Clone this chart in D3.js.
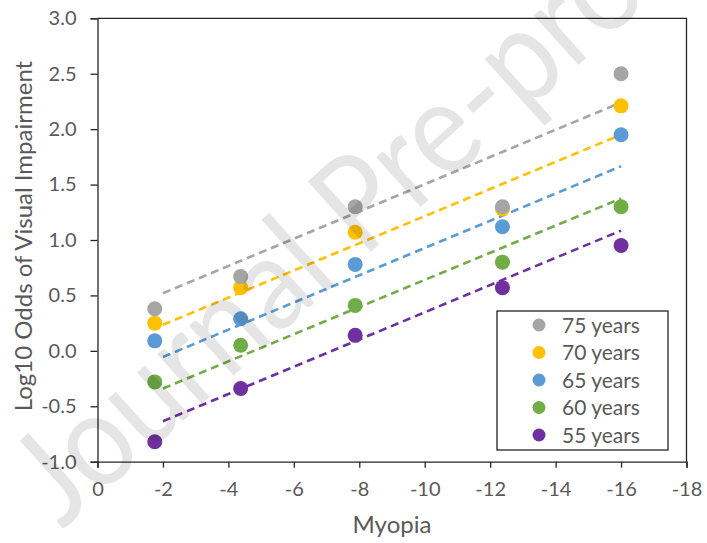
<!DOCTYPE html>
<html>
<head>
<meta charset="utf-8">
<script src="https://cdn.jsdelivr.net/npm/d3@7"></script>
<style>
  body { margin: 0; background: #fff; }
  svg { font-family: Lato, "Open Sans", sans-serif; }
</style>
</head>
<body>
<div id="chart"></div>
<script>
// myopia categories (dioptres) where the points sit
const myopiaX = [-1.75, -4.375, -7.875, -12.375, -16];

const seriesNames = ["75 years", "70 years", "65 years", "60 years", "55 years"];
const seriesColors = ["#A5A5A5", "#FFC000", "#5B9BD5", "#70AD47", "#7030A0"];

// log10 odds per age group
const age75 = [0.38, 0.67, 1.30, 1.30, 2.50];
const age70 = [0.25, 0.57, 1.07, 1.28, 2.21];
const age65 = [0.09, 0.29, 0.78, 1.12, 1.95];
const age60 = [-0.28, 0.05, 0.41, 0.80, 1.30];
const age55 = [-0.82, -0.34, 0.14, 0.57, 0.95];

// fitted lines, from x = -2 to x = -16
const trendX = [-2, -16];
const trendStart = [0.52, 0.235, -0.055, -0.34, -0.635];
const trendEnd = [2.24, 1.95, 1.665, 1.375, 1.085];

const xTicks = [0, -2, -4, -6, -8, -10, -12, -14, -16, -18];
const yTicks = [-1.0, -0.5, 0.0, 0.5, 1.0, 1.5, 2.0, 2.5, 3.0];

const allValues = [age75, age70, age65, age60, age55];

const width = 707, height = 543;
const margin = {left: 97.5, right: 20.5, top: 18.3, bottom: 81.3};

const svg = d3.select("#chart").append("svg")
    .attr("width", width)
    .attr("height", height);

const x = d3.scaleLinear().domain([0, -18]).range([margin.left, width - margin.right]);
const y = d3.scaleLinear().domain([-1, 3]).range([height - margin.bottom, margin.top]);

const textColor = "#595959";
const axisColor = "#262626";

// plot frame (top and right)
svg.append("path")
    .attr("d", `M${x(0)},${y(3)}H${x(-18)}V${y(-1)}`)
    .attr("fill", "none")
    .attr("stroke", axisColor)
    .attr("stroke-width", 1.3);

// x axis
const xAxis = svg.append("g")
    .attr("transform", `translate(0,${y(-1)})`)
    .call(d3.axisBottom(x).tickValues(xTicks).tickFormat(d => String(d)).tickSize(6).tickPadding(14));
xAxis.select(".domain").attr("stroke", axisColor).attr("stroke-width", 1.3);
xAxis.selectAll(".tick line").attr("stroke", axisColor).attr("stroke-width", 1.3);
xAxis.selectAll("text").attr("fill", textColor).style("font-size", "20px").style("font-family", "Lato");

// y axis
const yAxis = svg.append("g")
    .attr("transform", `translate(${x(0)},0)`)
    .call(d3.axisLeft(y).tickValues(yTicks).tickFormat(d => d.toFixed(1)).tickSize(7).tickPadding(14));
yAxis.select(".domain").attr("stroke", axisColor).attr("stroke-width", 1.3);
yAxis.selectAll(".tick line").attr("stroke", axisColor).attr("stroke-width", 1.3);
yAxis.selectAll("text").attr("fill", textColor).style("font-size", "20px").style("font-family", "Lato");

// axis titles
svg.append("text")
    .attr("x", x(-9))
    .attr("y", 533)
    .attr("text-anchor", "middle")
    .attr("fill", textColor)
    .style("font-size", "24px")
    .text("Myopia");

svg.append("text")
    .attr("transform", "translate(32,236) rotate(-90)")
    .attr("text-anchor", "middle")
    .attr("fill", textColor)
    .style("font-size", "24px")
    .text("Log10 Odds of Visual Impairment");

// trend lines
const line = d3.line().x(d => x(d[0])).y(d => y(d[1]));
svg.append("g").selectAll("path")
    .data(seriesNames.map((n, i) => [[trendX[0], trendStart[i]], [trendX[1], trendEnd[i]]]))
    .join("path")
    .attr("d", line)
    .attr("fill", "none")
    .attr("stroke", (d, i) => seriesColors[i])
    .attr("stroke-width", 2.6)
    .attr("stroke-dasharray", "8,5");

// points, drawn so 75 years ends on top
const series = seriesNames.map((n, i) => ({name: n, color: seriesColors[i], values: allValues[i]}));
svg.append("g").selectAll("g")
    .data(series.slice().reverse())
    .join("g")
    .attr("fill", d => d.color)
    .selectAll("circle")
    .data(d => d.values.map((v, j) => [myopiaX[j], v]))
    .join("circle")
    .attr("cx", d => x(d[0]))
    .attr("cy", d => y(d[1]))
    .attr("r", 7.5);

// legend
const legend = svg.append("g").attr("transform", "translate(497,311)");
legend.append("rect")
    .attr("width", 171)
    .attr("height", 139)
    .attr("fill", "#fff")
    .attr("stroke", axisColor)
    .attr("stroke-width", 1.3);
const items = legend.selectAll("g")
    .data(series)
    .join("g")
    .attr("transform", (d, i) => `translate(0,${14 + i * 27.5})`);
items.append("circle")
    .attr("cx", 42)
    .attr("cy", 0)
    .attr("r", 6.5)
    .attr("fill", d => d.color);
items.append("text")
    .attr("x", 65)
    .attr("y", 7.5)
    .attr("fill", textColor)
    .style("font-size", "21px")
    .text(d => d.name);

// watermark, fitted so "Journal " takes about 405px along the baseline
const wm = svg.append("text")
    .attr("fill", "#000")
    .attr("fill-opacity", 0.1)
    .style("font-size", "132px")
    .text("Journal Pre-proof");
const adv = wm.node().getSubStringLength(0, 8);
const sx = 405 / adv;
wm.attr("transform", `translate(62,530) rotate(-42) scale(${sx},1)`);
</script>
</body>
</html>
